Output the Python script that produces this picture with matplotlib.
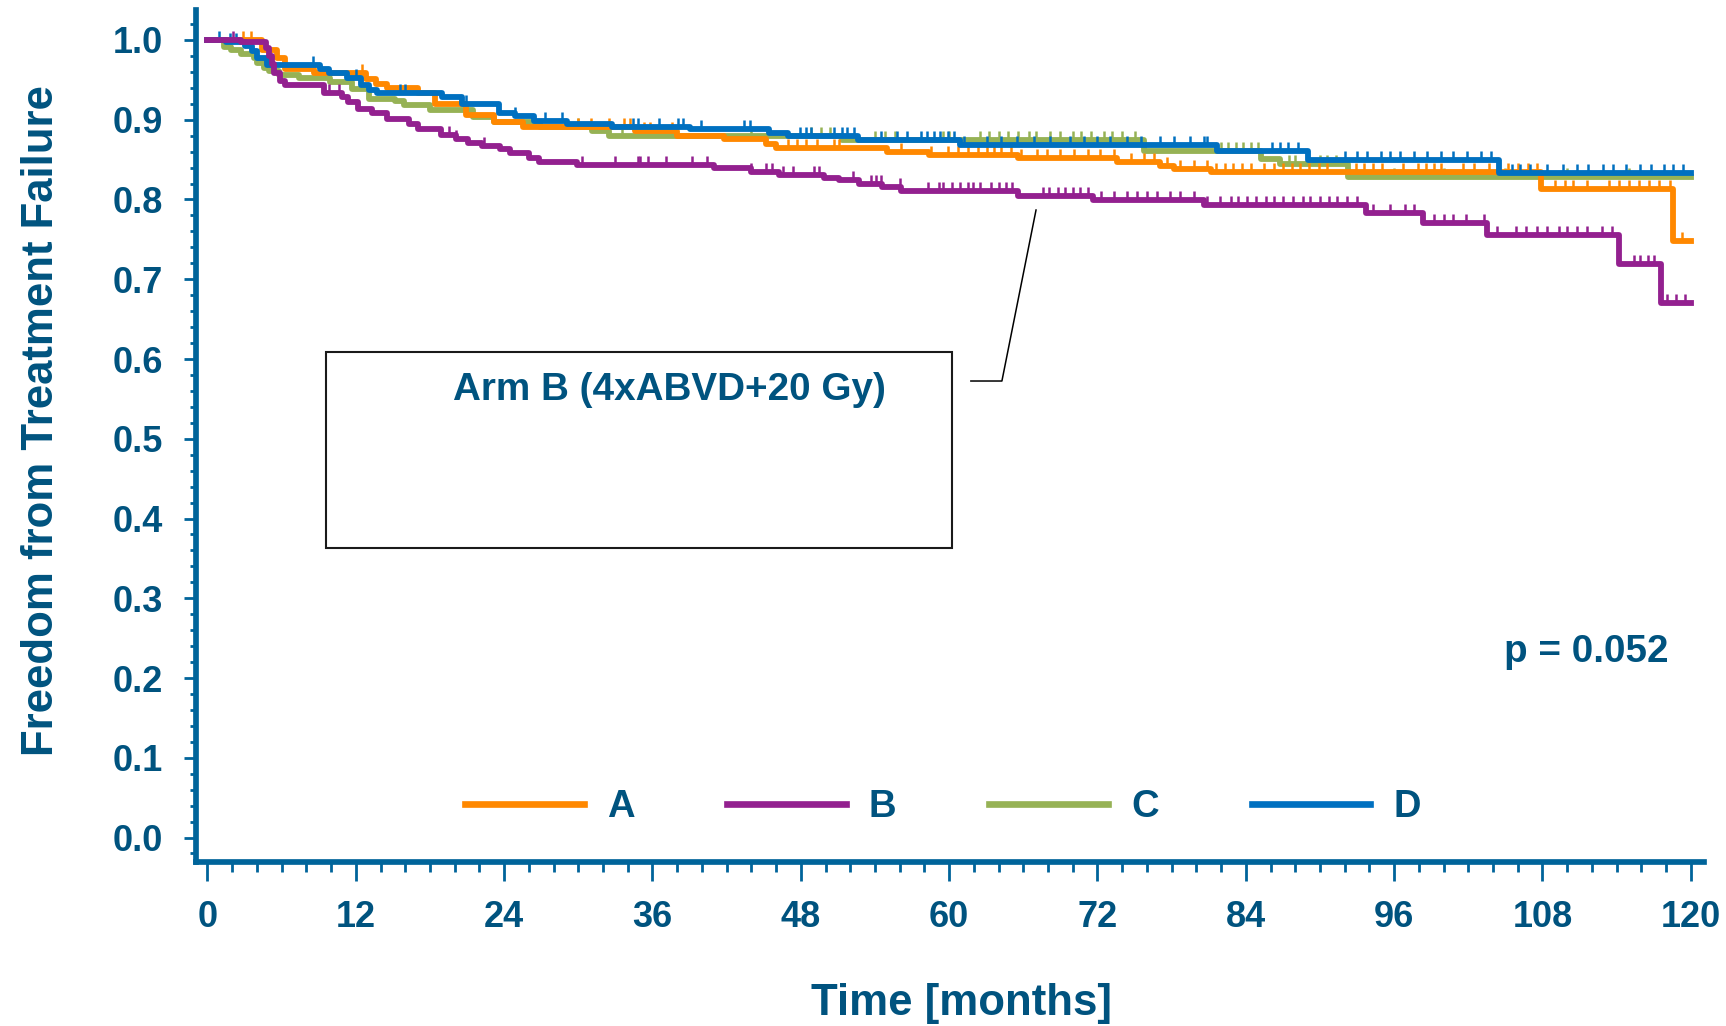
import numpy as np
import matplotlib
matplotlib.use('Agg')
import matplotlib.pyplot as plt
from matplotlib.lines import Line2D
from matplotlib.patches import Rectangle
from matplotlib.ticker import MultipleLocator, FormatStrFormatter

plt.rcParams['font.family'] = ['Liberation Sans', 'DejaVu Sans']
plt.rcParams['font.weight'] = 'bold'

# Kaplan-Meier steps: value holds from that month on
t_A = [0, 4.4, 5.6, 6.3, 8.6, 12.8, 13.6, 14.5, 17.0, 18.4, 20.9, 23.2, 25.5, 34.6,
       38.0, 41.8, 45.2, 46.0, 55.0, 58.4, 65.6, 73.6, 77.1, 78.2, 81.2, 107.9, 118.6]
s_A = [1.0, 0.988, 0.977, 0.964, 0.958, 0.951, 0.945, 0.940, 0.933, 0.920, 0.906, 0.897,
       0.891, 0.886, 0.880, 0.876, 0.869, 0.864, 0.859, 0.856, 0.852, 0.847, 0.842, 0.838,
       0.834, 0.813, 0.748]

t_B = [0, 2.7, 4.7, 5.0, 5.2, 5.4, 5.9, 6.3, 9.4, 10.9, 11.4, 12.2, 13.3, 14.5, 16.3,
       17.0, 18.9, 20.1, 21.1, 22.2, 23.7, 24.5, 26.0, 26.8, 29.9, 41.0, 44.0, 46.2, 49.9,
       51.1, 52.7, 54.6, 56.1, 65.6, 71.6, 80.6, 93.7, 98.3, 103.5, 114.2, 117.6]
s_B = [1.0, 0.998, 0.990, 0.980, 0.970, 0.958, 0.949, 0.944, 0.933, 0.929, 0.922, 0.914,
       0.908, 0.901, 0.895, 0.888, 0.881, 0.876, 0.871, 0.867, 0.863, 0.858, 0.852, 0.847,
       0.843, 0.840, 0.835, 0.831, 0.827, 0.824, 0.819, 0.816, 0.811, 0.804, 0.799, 0.793,
       0.783, 0.771, 0.756, 0.719, 0.670]

t_C = [0, 1.3, 1.9, 2.7, 3.75, 4.0, 4.6, 5.0, 5.8, 7.4, 9.95, 11.7, 13.05, 15.2, 15.9,
       18.0, 21.5, 23.2, 26.9, 31.1, 32.5, 51.3, 75.8, 85.2, 86.8, 92.3]
s_C = [1.0, 0.991, 0.987, 0.983, 0.978, 0.971, 0.965, 0.961, 0.956, 0.952, 0.947, 0.939,
       0.926, 0.923, 0.919, 0.912, 0.904, 0.897, 0.891, 0.886, 0.880, 0.875, 0.861, 0.851,
       0.844, 0.828]

t_D = [0, 1.5, 3.0, 3.6, 4.0, 4.8, 9.1, 9.8, 11.3, 12.4, 13.05, 13.7, 19.0, 20.6, 23.6,
       24.9, 26.4, 29.1, 32.7, 39.0, 45.4, 47.0, 52.6, 60.9, 81.7, 89.0, 104.5]
s_D = [1.0, 0.997, 0.993, 0.986, 0.977, 0.969, 0.964, 0.958, 0.952, 0.944, 0.937, 0.933,
       0.929, 0.920, 0.909, 0.905, 0.899, 0.895, 0.891, 0.888, 0.883, 0.880, 0.874, 0.868,
       0.861, 0.849, 0.833]

# censoring times (months)
c_A = [2.9, 3.5, 12.5, 30.0, 31.0, 32.5, 33.7, 34.2, 35.3, 35.8, 37.6, 47.0, 47.7, 48.4,
       49.3, 50.7, 51.1, 56.1, 58.5, 59.9, 60.7, 61.5, 62.3, 63.1, 63.6, 64.2, 65.0, 65.8,
       67.1, 67.9, 69.0, 70.1, 71.2, 72.2, 73.3, 74.7, 75.8, 76.6, 77.6, 78.7, 79.8, 80.9,
       81.6, 82.3, 83.0, 83.7, 84.4, 85.5, 86.3, 87.0, 87.7, 88.4, 89.1, 89.9, 90.6, 92.9,
       93.6, 94.3, 95.0, 96.7, 97.9, 98.6, 99.2, 99.8, 101.6, 102.5, 103.7, 104.5, 105.2,
       106.0, 106.8, 107.6, 109.0, 109.8, 110.5, 111.6, 113.4, 114.2, 115.0, 115.8, 116.6,
       117.4, 118.3, 119.3]
c_B = [2.1, 9.8, 10.6, 19.5, 20.1, 22.4, 30.3, 33.0, 34.8, 35.0, 35.6, 37.1, 39.2, 40.4,
       44.0, 45.2, 45.7, 46.6, 47.4, 49.1, 49.5, 52.2, 53.7, 54.1, 54.5, 56.0, 58.3, 59.2,
       59.5, 60.2, 60.9, 61.5, 61.9, 62.5, 63.4, 64.0, 64.6, 65.1, 67.6, 68.1, 68.8, 69.4,
       70.0, 70.6, 71.2, 72.3, 73.3, 74.4, 75.2, 76.0, 76.8, 77.9, 78.7, 79.8, 80.9, 81.9,
       82.8, 83.4, 84.1, 84.8, 85.6, 86.3, 87.0, 87.8, 88.6, 89.2, 90.0, 90.7, 91.4, 92.2,
       93.0, 94.3, 95.7, 96.9, 97.6, 99.2, 100.0, 100.8, 101.8, 103.3, 104.3, 105.9, 106.7,
       107.6, 108.4, 109.3, 110.0, 110.8, 111.6, 112.8, 113.6, 115.4, 115.9, 116.5, 117.0,
       118.1, 118.8, 119.5]
c_C = [30.0, 33.5, 44.0, 48.8, 49.6, 50.4, 54.0, 54.8, 55.6, 59.5, 60.0, 62.5, 63.2, 64.0,
       64.8, 65.6, 66.5, 67.0, 68.2, 69.0, 70.0, 70.7, 71.5, 72.5, 73.2, 74.0, 75.0, 82.0,
       82.6, 83.2, 83.8, 84.4, 85.0, 87.5, 88.0, 90.0, 90.6, 91.3, 96.0, 100.0, 105.0,
       110.0, 115.0]
c_D = [0.9, 1.8, 2.3, 8.5, 12.0, 12.4, 15.6, 16.0, 20.9, 24.9, 27.3, 28.7, 34.4, 34.8,
       36.5, 38.1, 38.5, 39.9, 43.4, 43.9, 47.9, 48.4, 48.8, 50.7, 51.3, 51.7, 52.3, 54.5,
       55.8, 56.6, 57.7, 58.2, 58.8, 59.3, 59.9, 60.4, 61.2, 63.1, 64.2, 65.5, 66.9, 68.2,
       69.8, 70.9, 72.0, 73.0, 74.4, 75.5, 77.1, 78.2, 79.5, 80.6, 80.9, 86.1, 86.8, 87.4,
       88.2, 89.0, 92.0, 93.0, 93.8, 94.9, 95.7, 96.5, 97.6, 98.7, 99.8, 100.8, 101.9,
       103.0, 103.8, 105.5, 106.2, 107.0, 108.4, 109.7, 110.8, 111.7, 112.9, 113.7, 114.8,
       115.9, 116.8, 117.8, 118.6, 119.4]

t_end = 120
labels = ['A', 'B', 'C', 'D']
colors = ['#FF8800', '#93208F', '#96B255', '#0070C0']

text_col = '#00537F'
axis_col = '#00649A'

fig = plt.figure(figsize=(17.26, 10.26), dpi=100)
ax = fig.add_axes([0.11327, 0.15984, 0.87398, 0.83041])

tick_up = [(0, 0), (0, 1)]
curves = {'A': (t_A, s_A, c_A), 'B': (t_B, s_B, c_B),
          'C': (t_C, s_C, c_C), 'D': (t_D, s_D, c_D)}
zorders = {'C': 3, 'A': 4, 'D': 5, 'B': 6}
for lab, col in zip(labels, colors):
    t, s, c = curves[lab]
    tt = np.array(t + [t_end])
    ss = np.array(s + [s[-1]])
    ax.step(tt, ss, where='post', color=col, lw=4.2, zorder=zorders[lab])
    idx = np.searchsorted(tt, c, side='right') - 1
    ax.plot(c, ss[idx], ls='none', marker=tick_up, ms=13, mew=1.8,
            color=col, zorder=zorders[lab])

# annotation box and connector
ax.add_patch(Rectangle((9.59, 0.363), 60.23 - 9.59, 0.6092 - 0.363, fill=False,
                       lw=1.5, edgecolor='#1a1a1a', zorder=2))
ax.plot([61.76, 64.27, 67.03], [0.5724, 0.5724, 0.7868], color='black', lw=1.1, zorder=2)
ax.text(37.34, 0.5486, 'Arm B (4xABVD+20 Gy)', ha='center', va='baseline',
        fontsize=27.8, color=text_col)
ax.text(118.2, 0.2204, 'p = 0.052', ha='right', va='baseline',
        fontsize=27.8, color=text_col)

ax.set_xlim(-0.97, 121.07)
ax.set_ylim(-0.0307, 1.0376)

for side in ['top', 'right']:
    ax.spines[side].set_visible(False)
for side in ['left', 'bottom']:
    ax.spines[side].set_color(axis_col)
    ax.spines[side].set_linewidth(4.1)
    ax.spines[side].set_capstyle('projecting')

ax.xaxis.set_major_locator(MultipleLocator(12))
ax.xaxis.set_minor_locator(MultipleLocator(2))
ax.yaxis.set_major_locator(MultipleLocator(0.1))
ax.yaxis.set_minor_locator(MultipleLocator(0.02))
ax.yaxis.set_major_formatter(FormatStrFormatter('%.1f'))

ax.tick_params(axis='y', which='major', length=8.6, width=2, color=axis_col, pad=15,
               labelsize=26, labelcolor=text_col)
ax.tick_params(axis='y', which='minor', length=4.5, width=2, color=axis_col)
ax.tick_params(axis='x', which='major', length=14, width=2, color=axis_col, pad=13,
               labelsize=26, labelcolor=text_col)
ax.tick_params(axis='x', which='minor', length=7.2, width=2, color=axis_col)

ax.set_xlabel('Time [months]', fontsize=31.5, fontweight='bold', color=text_col)
ax.set_ylabel('Freedom from Treatment Failure', fontsize=31.5, fontweight='bold',
              color=text_col)
ax.xaxis.set_label_coords(0.5075, -0.142)
ax.yaxis.set_label_coords(-0.0885, 0.518)

handles = [Line2D([], [], color=c, lw=4.8) for c in colors]
ax.legend(handles, labels, ncol=4, frameon=False, loc='center',
          bbox_to_anchor=(0.4955, 0.0646), handlelength=3.1, handletextpad=0.61,
          columnspacing=2.43, borderpad=0, labelcolor=text_col,
          prop={'size': 27.5, 'weight': 'bold'})

fig.savefig('out.png', dpi=100)
